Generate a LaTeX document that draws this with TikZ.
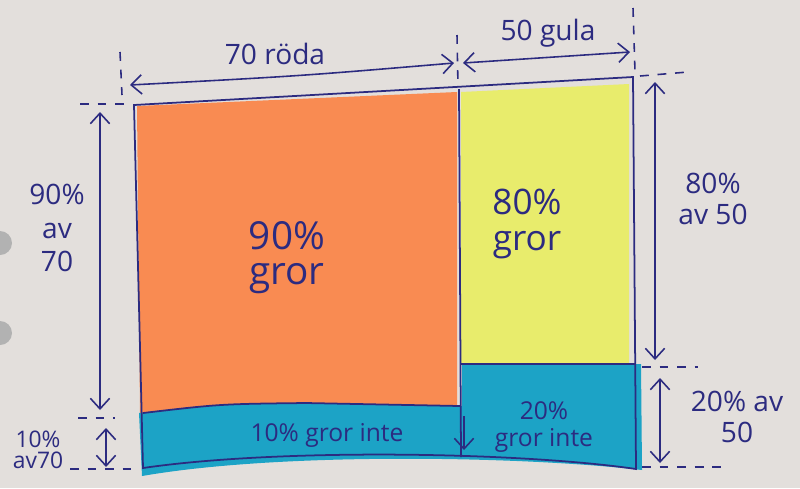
\documentclass[tikz,border=0pt]{standalone}
\usepackage{fontspec}
\setmainfont{Open Sans}
\usetikzlibrary{arrows.meta}
\definecolor{paper}{HTML}{E3DFDC}
\definecolor{ink}{HTML}{2C2B80}
\definecolor{redseed}{HTML}{F98B52}
\definecolor{yellowseed}{HTML}{E8EC6C}
\definecolor{bluefail}{HTML}{1CA3C6}
\begin{document}
\begin{tikzpicture}[x=0.02cm,y=-0.02cm,>={Straight Barb[length=6pt,width=11pt]},
  pen/.style={ink,line width=1pt},
  dim/.style={ink,line width=0.9pt,<->},
  ext/.style={ink,line width=0.9pt,dash pattern=on 5pt off 5pt},
  hand/.style={ink,align=center,font=\fontsize{16}{19}\selectfont}]
  \useasboundingbox[fill=paper] (0,0) rectangle (800,488);
  \fill[black!30] (0,243) circle (12) (0,333) circle (12);

  \coordinate (tl) at (134,105);
  \coordinate (tm) at (459,89);
  \coordinate (tr) at (633,77);
  \coordinate (br) at (636,469);
  \coordinate (bm) at (461,457);
  \coordinate (bl) at (143,468);
  \coordinate (ml) at (143,413);
  \coordinate (mm) at (460,406);
  \coordinate (mr) at (460,364);
  \coordinate (rr) at (635,364);

  \fill[redseed] (137,106) -- (457,92) -- (457,406) -- (306,403) .. controls (220,404) .. (140,413) -- cycle;
  \fill[yellowseed] (461,92) -- (629,84) -- (629,363) -- (461,363) -- cycle;
  \fill[bluefail] (139,413) .. controls (220,404) .. (306,403) -- (462,406) -- (462,364) -- (641,364)
    -- (642,470) .. controls (520,456) and (280,452) .. (142,476) -- cycle;

  \draw[pen] (tl) -- (tr) -- (br) .. controls (520,452) and (280,448) .. (bl) -- cycle;
  \draw[pen] (tm) -- (bm);
  \draw[pen] (ml) .. controls (220,404) .. (306,403) -- (mm);
  \draw[pen] (mr) -- (rr);

  \foreach \xa/\ya/\xb/\yb in {120/52/122/95,457/35/458/87,633/8/635/72,
                               80/104/128/104,640/76/688/72,78/418/115/418,
                               642/367/698/367,70/469/132/469,642/467/722/467}
    \draw[ext] (\xa,\ya) -- (\xb,\yb);

  \coordinate (a70l) at (130,85);
  \coordinate (a70r) at (454,63);
  \coordinate (a50l) at (463,63);
  \coordinate (a50r) at (630,52);
  \coordinate (a90t) at (100,112);
  \coordinate (a90b) at (100,410);
  \coordinate (a10t) at (106,428);
  \coordinate (a10b) at (106,467);
  \coordinate (a80t) at (655,82);
  \coordinate (a80b) at (655,360);
  \coordinate (a20t) at (660,378);
  \coordinate (a20b) at (660,463);
  \coordinate (gapt) at (464,416);
  \coordinate (gapb) at (464,450);

  \draw[dim] (a70l) .. controls (300,76) .. (a70r);
  \draw[dim] (a50l) -- (a50r);
  \draw[dim] (a90t) -- (a90b);
  \draw[dim] (a10t) -- (a10b);
  \draw[dim] (a80t) -- (a80b);
  \draw[dim] (a20t) -- (a20b);
  \draw[ink,line width=0.9pt,->] (gapt) -- (gapb);

  \node[hand] (lab70) at (275,54) {70 röda};
  \node[hand] (lab50) at (548,33) {50 gula};
  \node[hand] (lab90) at (57,228) {90\%\\av\\70};
  \node[hand,font=\fontsize{13}{12}\selectfont] (lab10) at (38,450) {10\%\\av70};
  \node[hand,font=\fontsize{16}{18}\selectfont] (lab80) at (713,199) {80\%\\av 50};
  \node[hand,font=\fontsize{16}{18}\selectfont] (lab20) at (737,417) {20\% av\\50};

  \node[hand,font=\fontsize{22}{20}\selectfont] (in90) at (287,258) {90\%\\gror};
  \node[hand,font=\fontsize{20}{20}\selectfont] (in80) at (527,224) {80\%\\gror};
  \node[hand,font=\fontsize{14}{16}\selectfont] (in10) at (327,435) {10\% gror inte};
  \node[hand,font=\fontsize{14}{15}\selectfont] (in20) at (544,427) {20\%\\gror inte};
\end{tikzpicture}
\end{document}
